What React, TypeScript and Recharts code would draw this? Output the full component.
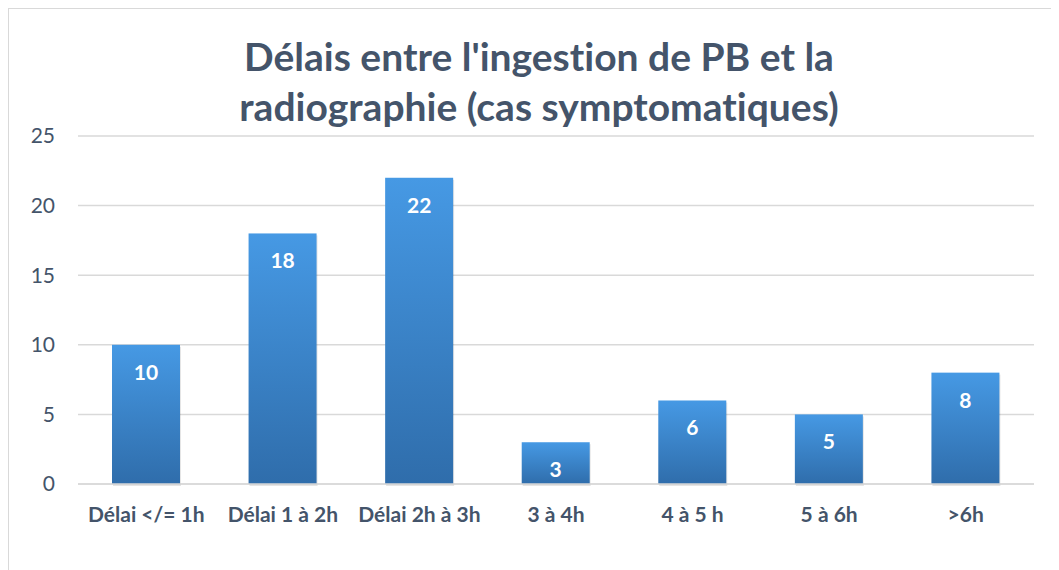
import React from 'react';
import { BarChart, Bar, XAxis, YAxis, CartesianGrid, LabelList } from 'recharts';

const categories = ['Délai </= 1h', 'Délai 1 à 2h', 'Délai 2h à 3h', '3 à 4h', '4 à 5 h', '5 à 6h', '>6h'];
const counts = [10, 18, 22, 3, 6, 5, 8];
const yTicks = [0, 5, 10, 15, 20, 25];

const chartData = categories.map((name, i) => ({ name, value: counts[i] }));

const FONT = 'Lato, "Open Sans", sans-serif';
const TEXT = '#44546A';

// bar with a soft shadow below it
const ShadowBar = (props: any) => {
  const { x, y, width, height } = props;
  if (!height || height <= 0) return <g />;
  return (
    <g>
      <rect x={x + 1} y={y + 2} width={width} height={height} fill="#000" opacity={0.1} />
      <rect x={x} y={y} width={width} height={height} fill="url(#barFill)" />
    </g>
  );
};

export default function App() {
  return (
    <div
      style={{
        position: 'relative',
        width: 1051,
        height: 562,
        borderLeft: '1px solid #D9D9D9',
        borderTop: '1px solid #D9D9D9',
        background: '#fff',
        fontFamily: FONT,
        fontVariantLigatures: 'none',
        overflow: 'hidden',
      }}
    >
      {/* Chart title, two lines centred over the plot */}
      <div
        style={{
          position: 'absolute',
          top: 22,
          left: 4,
          width: 1052,
          textAlign: 'center',
          fontSize: 39,
          fontWeight: 700,
          lineHeight: '50px',
          color: TEXT,
        }}
      >
        Délais entre l'ingestion de PB et la
        <br />
        radiographie (cas symptomatiques)
      </div>
      <BarChart
        width={1050}
        height={561}
        data={chartData}
        margin={{ top: 127, right: 25, bottom: 56, left: 19 }}
      >
        <defs>
          <linearGradient id="barFill" x1="0" y1="0" x2="0" y2="1">
            <stop offset="0%" stopColor="#4699E4" />
            <stop offset="100%" stopColor="#2F6DAB" />
          </linearGradient>
        </defs>
        <CartesianGrid vertical={false} stroke="#D9D9D9" strokeWidth={1.5} />
        <XAxis
          dataKey="name"
          height={30}
          tickLine={false}
          axisLine={{ stroke: '#D9D9D9', strokeWidth: 1.5 }}
          tickMargin={17}
          interval={0}
          tick={{ fontSize: 21, fontWeight: 700, fill: TEXT, fontFamily: FONT }}
        />
        <YAxis
          width={50}
          domain={[0, 25]}
          ticks={yTicks}
          tickLine={false}
          axisLine={false}
          tickMargin={17}
          tick={{ fontSize: 21, fill: TEXT, fontFamily: FONT }}
        />
        <Bar dataKey="value" fill="url(#barFill)" barSize={68} shape={ShadowBar} isAnimationActive={false}>
          <LabelList
            dataKey="value"
            position="insideTop"
            offset={20}
            fill="#fff"
            style={{ fontSize: 21, fontWeight: 700, fontFamily: FONT }}
          />
        </Bar>
      </BarChart>
    </div>
  );
}
